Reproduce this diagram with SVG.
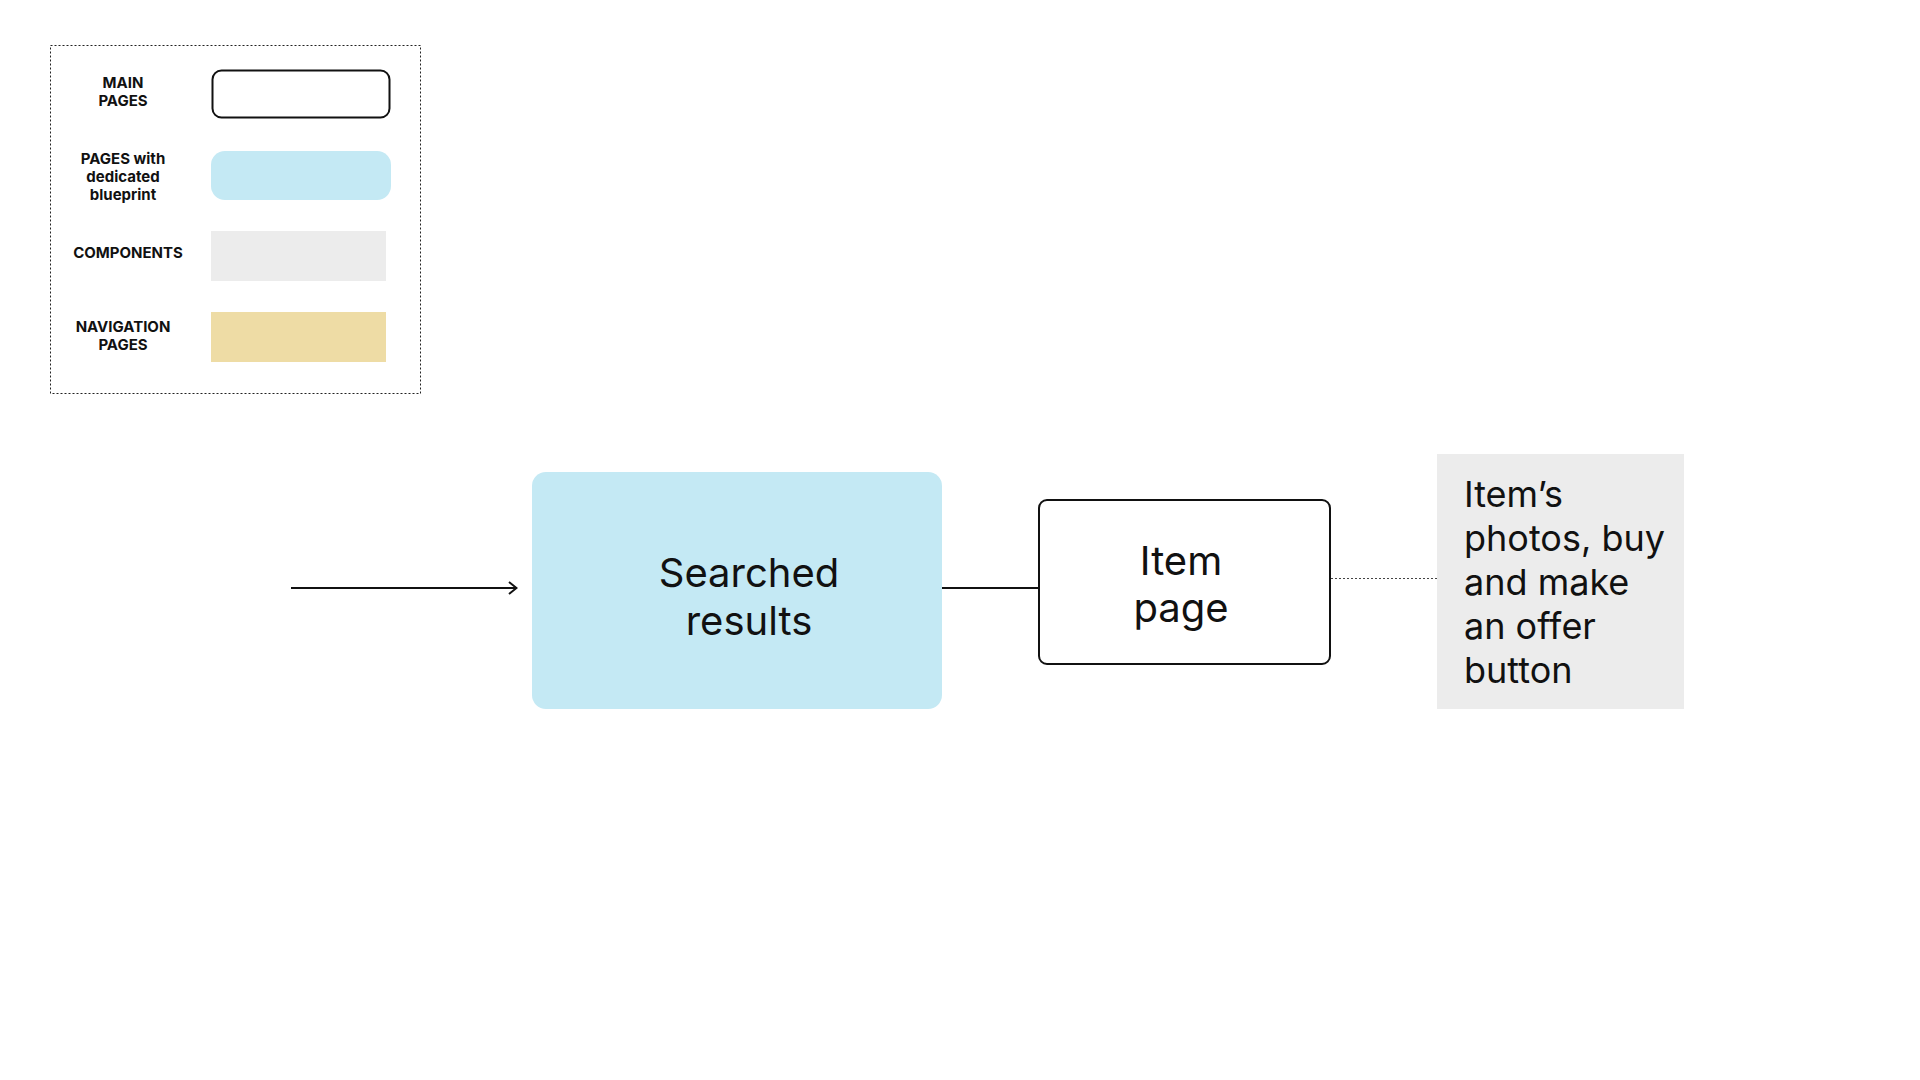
<svg xmlns="http://www.w3.org/2000/svg" width="1920" height="1080" viewBox="0 0 1920 1080">
  <style>
    .lg { font-family: Inter, "Liberation Sans", sans-serif; font-weight: 700; font-size: 15px; fill: #111; text-anchor: middle; }
    .nd { font-family: Inter, "Liberation Sans", sans-serif; font-size: 40px; fill: #111; text-anchor: middle; }
    .cm { font-family: Inter, "Liberation Sans", sans-serif; font-size: 36px; fill: #111; }
    .main { fill: #fff; stroke: #111; stroke-width: 2; }
    .blue { fill: #C4E9F4; }
    .gray { fill: #ECECEC; }
    .nav { fill: #EEDCA5; }
  </style>
  <defs>
    <marker id="arr" viewBox="0 0 12 14" refX="11" refY="7" markerWidth="12" markerHeight="14" markerUnits="userSpaceOnUse" orient="auto">
      <path d="M3,1 L10.5,7 L3,13" fill="none" stroke="#111" stroke-width="2"/>
    </marker>
  </defs>
  <rect width="1920" height="1080" fill="#fff"/>

  <g id="legend">
    <rect x="50.5" y="45.5" width="370" height="348" fill="none" stroke="#222" stroke-width="1" stroke-dasharray="2 2"/>
    <text class="lg"><tspan x="123" y="88">MAIN</tspan><tspan x="123" y="106">PAGES</tspan></text>
    <rect class="main" x="212.5" y="70.5" width="177" height="47" rx="9"/>
    <text class="lg"><tspan x="123" y="164">PAGES with</tspan><tspan x="123" y="182">dedicated</tspan><tspan x="123" y="200">blueprint</tspan></text>
    <rect class="blue" x="211" y="151" width="180" height="49" rx="14"/>
    <text class="lg" x="128" y="258">COMPONENTS</text>
    <rect class="gray" x="211" y="231" width="175" height="50"/>
    <text class="lg"><tspan x="123" y="332">NAVIGATION</tspan><tspan x="123" y="350">PAGES</tspan></text>
    <rect class="nav" x="211" y="312" width="175" height="50"/>
  </g>

  <g id="connectors">
    <line x1="291" y1="588" x2="517" y2="588" stroke="#111" stroke-width="2" marker-end="url(#arr)"/>
    <line x1="942" y1="588" x2="1038" y2="588" stroke="#111" stroke-width="2"/>
    <line x1="1331" y1="578.5" x2="1437" y2="578.5" stroke="#444" stroke-width="1" stroke-dasharray="2 2"/>
  </g>

  <g id="searched-results">
    <rect class="blue" x="532" y="472" width="410" height="237" rx="14"/>
    <text class="nd"><tspan x="749" y="587">Searched</tspan><tspan x="749" y="635">results</tspan></text>
  </g>

  <g id="item-page">
    <rect class="main" x="1039" y="500" width="291" height="164" rx="8"/>
    <text class="nd"><tspan x="1181" y="575">Item</tspan><tspan x="1181" y="622">page</tspan></text>
  </g>

  <g id="item-components">
    <rect class="gray" x="1437" y="454" width="247" height="255"/>
    <text class="cm"><tspan x="1464" y="507">Item’s</tspan><tspan x="1464" y="551">photos, buy</tspan><tspan x="1464" y="595">and make</tspan><tspan x="1464" y="639">an offer</tspan><tspan x="1464" y="683">button</tspan></text>
  </g>
</svg>
